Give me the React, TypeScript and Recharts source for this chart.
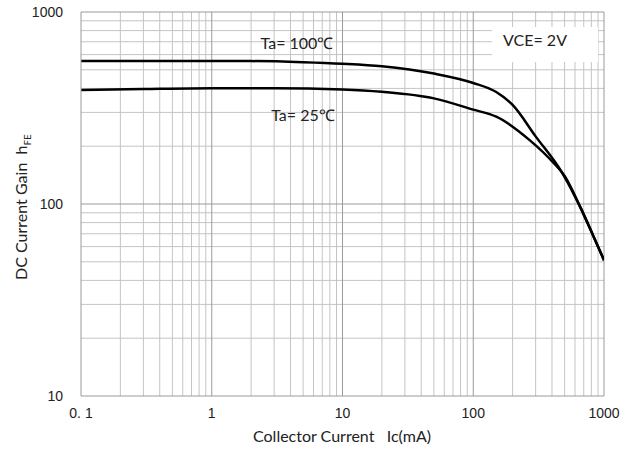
import React from 'react'
import { LineChart, Line, XAxis, YAxis, CartesianGrid } from 'recharts'

// collector current (mA) / hFE
const ic100 = [0.1, 0.5, 2, 5, 10, 20, 50, 100, 150, 200, 300, 480, 660, 800, 1000]
const hfe100 = [556, 556, 555, 548, 538, 522, 478, 427, 383, 328, 225, 145, 96, 72, 51]

const ic25 = [0.1, 0.3, 1, 3, 10, 20, 50, 100, 150, 270, 410, 500, 660, 800, 1000]
const hfe25 = [392, 397, 401, 401, 395, 384, 355, 310, 285, 215, 164, 140, 96, 72, 51]

const xTicks = [0.1, 1, 10, 100, 1000]
const yTicks = [10, 100, 1000]

const series100 = ic100.map((ic, i) => ({ ic, hfe: hfe100[i] }))
const series25 = ic25.map((ic, i) => ({ ic, hfe: hfe25[i] }))

const GRID_MINOR = '#c4c4c4'
const GRID_MAJOR = '#9a9a9a'
const FONT = 'Lato, "Open Sans", sans-serif'

const minorLines = (decades: number[]) =>
  decades.flatMap((d) => [2, 3, 4, 5, 6, 7, 8, 9].map((k) => +(k * d).toPrecision(3)))

const xMinor = minorLines([0.1, 1, 10, 100])
const xMajor = [1, 10, 100, 1000]
const yMinor = minorLines([10, 100])
const yMajor = [100, 1000]

const fmtX = (v: number) => (v === 0.1 ? '0. 1' : String(v))

// map grid values through the axis scale (fallback: log position in the plot box)
const xGen = (vals: number[]) => ({ xAxis, offset }: any) =>
  vals.map((v) =>
    xAxis && typeof xAxis.scale === 'function'
      ? xAxis.scale(v)
      : offset.left + (offset.width * (Math.log10(v) + 1)) / 4
  )
const yGen = (vals: number[]) => ({ yAxis, offset }: any) =>
  vals.map((v) =>
    yAxis && typeof yAxis.scale === 'function'
      ? yAxis.scale(v)
      : offset.top + (offset.height * (3 - Math.log10(v))) / 2
  )

export default function App() {
  return (
    <div style={{ width: 633, height: 452, background: '#fff' }}>
      <style>{'body{margin:0}'}</style>
      <LineChart
        width={633}
        height={452}
        margin={{ top: 12, right: 29, bottom: 0, left: 0 }}
      >
        <CartesianGrid
          verticalCoordinatesGenerator={xGen(xMinor)}
          horizontalCoordinatesGenerator={yGen(yMinor)}
          stroke={GRID_MINOR}
          strokeWidth={1}
        />
        <CartesianGrid
          verticalCoordinatesGenerator={xGen(xMajor)}
          horizontalCoordinatesGenerator={yGen(yMajor)}
          stroke={GRID_MAJOR}
          strokeWidth={1}
        />
        <XAxis
          dataKey="ic"
          type="number"
          scale="log"
          domain={[0.1, 1000]}
          ticks={xTicks}
          tickFormatter={fmtX}
          allowDataOverflow
          height={56}
          tickLine={false}
          axisLine={{ stroke: GRID_MAJOR }}
          tick={{ fill: '#222', fontSize: 14, fontFamily: '"Liberation Sans", sans-serif' }}
          tickMargin={6}
        />
        <YAxis
          dataKey="hfe"
          type="number"
          scale="log"
          domain={[10, 1000]}
          ticks={yTicks}
          allowDataOverflow
          width={81}
          tickLine={false}
          axisLine={{ stroke: GRID_MAJOR }}
          tick={{ fill: '#222', fontSize: 14, fontFamily: '"Liberation Sans", sans-serif' }}
          tickMargin={12}
        />
        <rect x={492} y={27} width={106} height={35} fill="#fff" />
        <Line
          data={series100}
          dataKey="hfe"
          type="monotone"
          stroke="#000"
          strokeWidth={2.5}
          dot={false}
          isAnimationActive={false}
        />
        <Line
          data={series25}
          dataKey="hfe"
          type="monotone"
          stroke="#000"
          strokeWidth={2.5}
          dot={false}
          isAnimationActive={false}
        />
        <text x={297} y={49} textAnchor="middle" fontSize={16} fontFamily={FONT} fill="#222">
          Ta= 100℃
        </text>
        <text x={303} y={121} textAnchor="middle" fontSize={16} fontFamily={FONT} fill="#222">
          Ta= 25℃
        </text>
        <text x={535} y={46} textAnchor="middle" fontSize={16} fontFamily={FONT} fill="#222">
          VCE= 2V
        </text>
        <text x={342} y={442} textAnchor="middle" fontSize={16} fontFamily={FONT} fill="#222">
          Collector Current{'\u00a0\u00a0 '}Ic(mA)
        </text>
        <text
          transform="translate(27 207) rotate(-90)"
          textAnchor="middle"
          fontSize={16}
          fontFamily={FONT}
          fill="#222"
        >
          DC Current Gain{'\u00a0\u00a0'}h
          <tspan fontSize={10} dy={4}>FE</tspan>
        </text>
      </LineChart>
    </div>
  )
}
